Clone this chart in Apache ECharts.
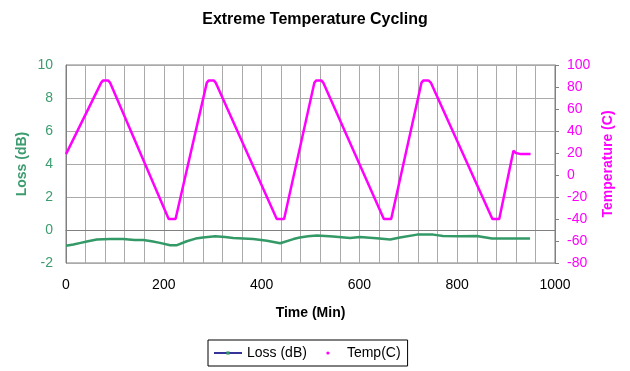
<!DOCTYPE html>
<html>
<head>
<meta charset="utf-8">
<script src="https://cdn.jsdelivr.net/npm/echarts@6/dist/echarts.min.js"></script>
<style>
html,body{margin:0;padding:0;background:#fff;}
#chart{width:630px;height:371px;}
</style>
</head>
<body>
<div id="chart"></div>
<script>
// Data
var tempTime = [0, 4, 72, 76, 86, 90, 210, 224, 288, 292, 302, 306, 431, 446, 508, 512, 522, 526, 650, 665, 727, 731, 741, 746, 872, 886, 915, 920, 930, 950];
var tempVal  = [19, 20, 84, 86, 86, 84, -40, -40, 84, 86, 86, 84, -40, -40, 84, 86, 86, 84, -40, -40, 84, 86, 86, 84, -40, -40, 22, 20, 19, 19];

var lossTime = [0, 15, 30, 45, 63, 90, 117, 140, 158, 175, 192, 213, 227, 247, 265, 280, 305, 325, 342, 383, 411, 438, 465, 478, 495, 513, 546, 581, 601, 635, 663, 683, 718, 751, 771, 806, 840, 871, 902, 949];
var lossVal  = [-0.95, -0.88, -0.78, -0.68, -0.58, -0.55, -0.55, -0.6, -0.6, -0.68, -0.78, -0.92, -0.92, -0.68, -0.52, -0.45, -0.38, -0.42, -0.48, -0.55, -0.65, -0.8, -0.55, -0.45, -0.38, -0.34, -0.4, -0.48, -0.42, -0.5, -0.58, -0.46, -0.28, -0.28, -0.36, -0.38, -0.36, -0.52, -0.52, -0.52];

var xTicks = [0, 200, 400, 600, 800, 1000];

var GREEN = '#339966';
var GREEN_TXT = '#3c9c70';
var MAGENTA = '#ff00ff';
var GRIDC = '#aaaaaa';
var FONT = 'Liberation Sans, Arial, sans-serif';

function pairs(xs, ys) { return xs.map(function (x, i) { return [x, ys[i]]; }); }

var chart = echarts.init(document.getElementById('chart'), null, {renderer: 'canvas'});
chart.setOption({
  animation: false,
  backgroundColor: '#fff',
  title: {
    text: 'Extreme Temperature Cycling',
    left: 'center',
    top: 7,
    textStyle: {fontFamily: FONT, fontSize: 16, fontWeight: 'bold', color: '#000'}
  },
  grid: {left: 66, right: 75, top: 65, bottom: 108, show: true, borderColor: '#808080', borderWidth: 1, backgroundColor: '#fff'},
  legend: {
    left: 208, top: 340,
    padding: [6, 7, 6, 5],
    borderColor: '#000', borderWidth: 1,
    itemWidth: 28, itemHeight: 4, itemGap: 6,
    textStyle: {fontFamily: FONT, fontSize: 14, color: '#000'},
    data: [
      {name: 'Loss (dB)', lineStyle: {color: '#333399', width: 2}, itemStyle: {color: GREEN}},
      {name: 'Temp(C)', lineStyle: {opacity: 0}, itemStyle: {color: MAGENTA}}
    ]
  },
  xAxis: {
    type: 'value', min: 0, max: 1000, interval: 200,
    name: 'Time (Min)', nameLocation: 'middle', nameGap: 43, nameMoveOverlap: false,
    nameTextStyle: {fontFamily: FONT, fontSize: 14, fontWeight: 'bold', color: '#000'},
    axisLine: {show: true, lineStyle: {color: '#808080'}},
    axisTick: {show: false},
    axisLabel: {fontFamily: FONT, fontSize: 14, color: '#000', margin: 15,
      formatter: function (v) { return xTicks.indexOf(v) >= 0 ? String(v) : ''; }},
    splitLine: {show: true, lineStyle: {color: GRIDC, width: 1}},
    minorTick: {show: false, splitNumber: 5},
    minorSplitLine: {show: true, lineStyle: {color: GRIDC, width: 1}}
  },
  yAxis: [
    {
      type: 'value', min: -2, max: 10, interval: 2, position: 'left',
      name: 'Loss (dB)', nameLocation: 'middle', nameGap: 37, nameMoveOverlap: false,
      nameTextStyle: {fontFamily: FONT, fontSize: 14, fontWeight: 'bold', color: GREEN_TXT},
      axisLine: {show: true, lineStyle: {color: '#808080'}},
      axisTick: {show: false},
      axisLabel: {fontFamily: FONT, fontSize: 14, color: GREEN_TXT, margin: 13},
      splitLine: {show: true, lineStyle: {color: GRIDC, width: 1}}
    },
    {
      type: 'value', min: -80, max: 100, interval: 20, position: 'right',
      name: 'Temperature (C)', nameLocation: 'middle', nameGap: 46, nameMoveOverlap: false,
      nameTextStyle: {fontFamily: FONT, fontSize: 14, fontWeight: 'bold', color: MAGENTA},
      axisLine: {show: true, lineStyle: {color: '#808080'}},
      axisTick: {show: true, length: 4, lineStyle: {color: '#808080'}},
      axisLabel: {fontFamily: FONT, fontSize: 14, color: MAGENTA, margin: 12},
      splitLine: {show: false}
    }
  ],
  series: [
    {
      name: 'Loss (dB)', type: 'line', yAxisIndex: 0,
      data: pairs(lossTime, lossVal),
      symbol: 'rect', symbolSize: 3, showSymbol: false,
      lineStyle: {color: GREEN, width: 2.5},
      itemStyle: {color: GREEN}
    },
    {
      name: 'Temp(C)', type: 'line', yAxisIndex: 1,
      data: pairs(tempTime, tempVal),
      symbol: 'circle', symbolSize: 3, showSymbol: false,
      lineStyle: {color: MAGENTA, width: 2.5},
      itemStyle: {color: MAGENTA}
    }
  ]
});
</script>
</body>
</html>
